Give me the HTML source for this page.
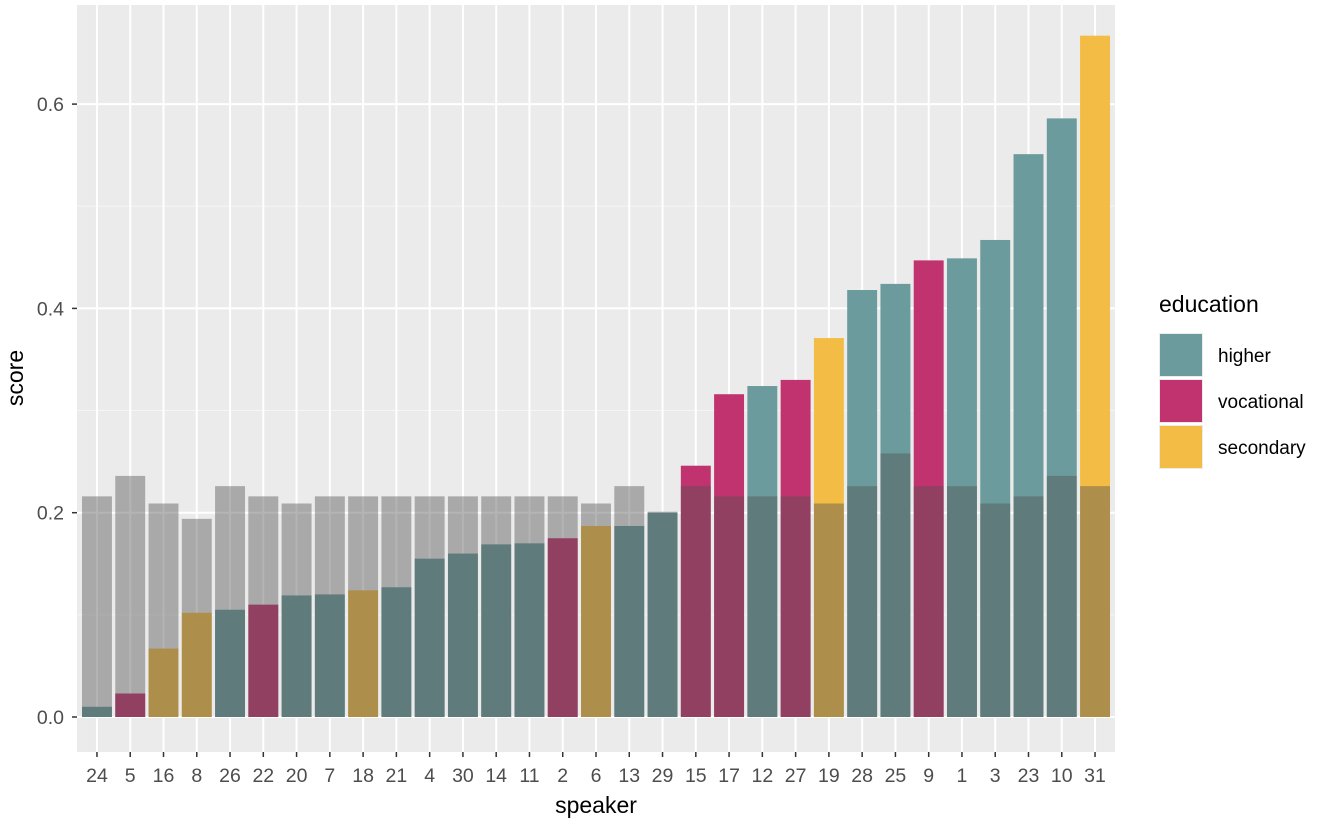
<!DOCTYPE html>
<html><head><meta charset="utf-8">
<style>
body{margin:0;background:#fff;}
svg{display:block;font-family:"Liberation Sans",Arial,sans-serif;}
</style></head>
<body>
<svg id="chart" width="1328" height="824"></svg>
<script>
const speakers=["24","5","16","8","26","22","20","7","18","21","4","30","14","11","2","6","13","29","15","17","12","27","19","28","25","9","1","3","23","10","31"];
const education=["higher","vocational","secondary","secondary","higher","vocational","higher","higher","secondary","higher","higher","higher","higher","higher","vocational","secondary","higher","higher","vocational","vocational","higher","vocational","secondary","higher","higher","vocational","higher","higher","higher","higher","secondary"];
const scores=[0.010,0.023,0.067,0.102,0.105,0.110,0.119,0.120,0.124,0.127,0.155,0.160,0.169,0.170,0.175,0.187,0.187,0.200,0.246,0.316,0.324,0.330,0.371,0.418,0.424,0.447,0.449,0.467,0.551,0.586,0.667];
const baselines=[0.216,0.236,0.209,0.194,0.226,0.216,0.209,0.216,0.216,0.216,0.216,0.216,0.216,0.216,0.216,0.209,0.226,0.201,0.226,0.216,0.216,0.216,0.209,0.226,0.258,0.226,0.226,0.209,0.216,0.236,0.226];
const yTicks=[0,0.2,0.4,0.6];
const yTickLabels=["0.0","0.2","0.4","0.6"];
const legendLevels=["higher","vocational","secondary"];

const colors={higher:"#6b9b9d",vocational:"#c1336f",secondary:"#f3bd45"};
const svg=document.getElementById('chart');
const NS="http://www.w3.org/2000/svg";
function mk(tag,attrs,parent){const e=document.createElementNS(NS,tag);for(const k in attrs)e.setAttribute(k,attrs[k]);(parent||svg).appendChild(e);return e;}
const PL=77,PR=1115,PT=5,PB=752;
const step=(PR-PL)/(speakers.length-1+1.2);
const xs=i=>PL+(i+0.6)*step;
const y0=717,yPer=1021.5;
const ys=v=>y0-v*yPer;
const bw=step*0.9;

let panel=mk('rect',{x:PL,y:PT,width:PR-PL,height:PB-PT,fill:"#ebebeb"});


[0.1,0.3,0.5].forEach(v=>{let l=mk('line',{x1:PL,x2:PR,y1:ys(v),y2:ys(v),stroke:"#f5f5f5","stroke-width":1});

});
yTicks.forEach(v=>{let l=mk('line',{x1:PL,x2:PR,y1:ys(v),y2:ys(v),stroke:"#fff","stroke-width":2});

});
speakers.forEach((s,i)=>{let l=mk('line',{x1:xs(i),x2:xs(i),y1:PT,y2:PB,stroke:"#fff","stroke-width":2});

});
speakers.forEach((s,i)=>{
  let r=mk('rect',{x:xs(i)-bw/2,y:ys(scores[i]),width:bw,height:ys(0)-ys(scores[i]),fill:colors[education[i]]});
  
  
});
speakers.forEach((s,i)=>{
  let r=mk('rect',{x:xs(i)-bw/2,y:ys(baselines[i]),width:bw,height:ys(0)-ys(baselines[i]),fill:"#515151","fill-opacity":0.43});
  
  
});
yTicks.forEach((v,i)=>{
  let t=mk('line',{x1:PL-5,x2:PL,y1:ys(v),y2:ys(v),stroke:"#333","stroke-width":1.5});
  
  
  let tx=mk('text',{x:PL-13,y:ys(v)+7,"text-anchor":"end","font-size":19.5,fill:"#4d4d4d"});
  tx.textContent=yTickLabels[i];
  
  
});
speakers.forEach((s,i)=>{
  let t=mk('line',{x1:xs(i),x2:xs(i),y1:PB,y2:PB+5,stroke:"#333","stroke-width":1.5});
  
  
  let tx=mk('text',{x:xs(i),y:782,"text-anchor":"middle","font-size":19.5,fill:"#4d4d4d"});
  tx.textContent=s;
  
  
});
let xt=mk('text',{x:(PL+PR)/2,y:813,"text-anchor":"middle","font-size":23,fill:"#000"});
xt.textContent="speaker";


let yt=mk('text',{x:0,y:0,transform:"translate(23,378) rotate(-90)","text-anchor":"middle","font-size":23,fill:"#000"});
yt.textContent="score";


let lt=mk('text',{x:1159,y:312,"font-size":23,fill:"#000"});
lt.textContent="education";


legendLevels.forEach((lv,i)=>{
  const ky=333+i*46;
  let bg=mk('rect',{x:1159,y:ky,width:44,height:44,fill:"#ebebeb"});
  
  
  let k=mk('rect',{x:1160,y:ky+1,width:42,height:42,fill:colors[lv]});
  
  
  let t=mk('text',{x:1218,y:ky+29,"font-size":19,fill:"#000"});
  t.textContent=lv;
  
  
});
</script>
</body></html>
